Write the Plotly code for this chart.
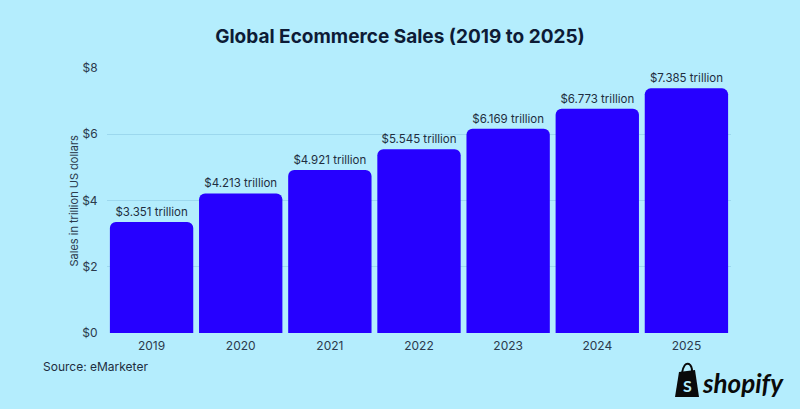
import plotly.graph_objects as go

years = ["2019", "2020", "2021", "2022", "2023", "2024", "2025"]
sales = [3.351, 4.213, 4.921, 5.545, 6.169, 6.773, 7.385]
labels = ["$3.351 trillion", "$4.213 trillion", "$4.921 trillion", "$5.545 trillion",
          "$6.169 trillion", "$6.773 trillion", "$7.385 trillion"]
y_ticks = [0, 2, 4, 6, 8]
y_tick_text = ["$0", "$2", "$4", "$6", "$8"]

BG = "#b4edfd"
BAR = "#2600ff"
GRID = "#9cd8ee"
TXT = "#2b3a4c"

W, H = 800, 409
L, R, T, B = 107, 69, 68, 76
PW, PH = W - L - R, H - T - B


def px(x):
    return (x - L) / PW


def py(y):
    return (H - B - y) / PH


fig = go.Figure(go.Bar(
    x=years, y=sales, text=labels, textposition="outside",
    textfont=dict(family="Inter, Roboto, sans-serif", size=11.5, color="#1e2d40"),
    marker=dict(color=BAR, cornerradius=6, line=dict(width=0)),
    cliponaxis=False, hoverinfo="skip",
))

fig.update_layout(
    width=W, height=H,
    margin=dict(l=L, r=R, t=T, b=B),
    paper_bgcolor=BG, plot_bgcolor=BG,
    bargap=0.065,
    showlegend=False,
    font=dict(family="Inter, Roboto, sans-serif", color=TXT),
    title=dict(text="<b>Global Ecommerce Sales (2019 to 2025)</b>",
               x=0.5, xanchor="center", y=1 - 36 / H, yanchor="middle",
               font=dict(family="Inter, Roboto, sans-serif", size=19, color="#0d1b36")),
    xaxis=dict(showgrid=False, showline=False, zeroline=False,
               tickfont=dict(size=12, color=TXT), ticks="outside", ticklen=2,
               tickcolor="rgba(0,0,0,0)"),
    yaxis=dict(range=[0, 8], tickvals=y_ticks, ticktext=y_tick_text,
               showgrid=True, gridcolor=GRID, gridwidth=1, zeroline=False,
               showline=False, tickfont=dict(size=12, color=TXT),
               ticks="outside", ticklen=6, tickcolor="rgba(0,0,0,0)"),
    annotations=[
        dict(text="Sales in trillion US dollars", xref="paper", yref="paper",
             x=px(73), y=0.5, textangle=-90, showarrow=False,
             font=dict(size=11, color=TXT), xanchor="center", yanchor="middle"),
        dict(text="Source: eMarketer", xref="paper", yref="paper",
             x=px(41), y=py(366), showarrow=False, xanchor="left", yanchor="middle",
             font=dict(size=12, color="#1e2d40")),
        dict(text="<b><i>shopify</i></b>", xref="paper", yref="paper",
             x=px(700), y=py(383), showarrow=False, xanchor="left", yanchor="middle",
             font=dict(family="Lato, Open Sans, sans-serif", size=26, color="#0a0a0a")),
        dict(text="<b>S</b>", xref="paper", yref="paper",
             x=px(687.5), y=py(385), showarrow=False, xanchor="center", yanchor="middle",
             font=dict(family="Lato, sans-serif", size=16, color=BG)),
    ],
)

body = [(679, 372), (695, 370), (699, 397), (675, 397)]
path = "M " + " L ".join(f"{px(a)},{py(b)}" for a, b in body) + " Z"
handle = f"M {px(682)},{py(373)} Q {px(684)},{py(362)} {px(689)},{py(364)} Q {px(692)},{py(366)} {px(692)},{py(371)}"
fig.add_shape(type="path", path=path, xref="paper", yref="paper",
              fillcolor="#0a0a0a", line=dict(width=0))
fig.add_shape(type="path", path=handle, xref="paper", yref="paper",
              line=dict(color="#0a0a0a", width=2))

fig.write_html("out.html", config={"displayModeBar": False},
               post_script="document.body.style.margin='0';document.body.style.overflow='hidden';")
